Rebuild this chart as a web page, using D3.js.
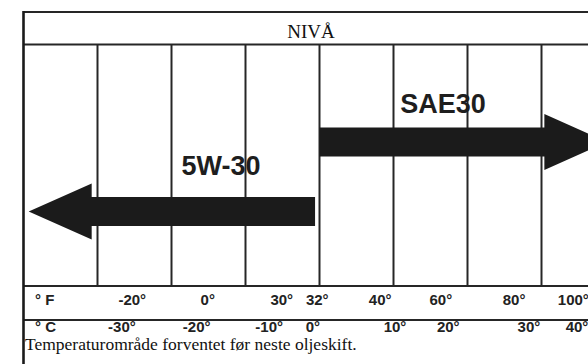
<!DOCTYPE html>
<html><head><meta charset="utf-8">
<script src="https://cdn.jsdelivr.net/npm/d3@7"></script>
<style>html,body{margin:0;padding:0;background:#fff;} svg{display:block}</style>
</head><body>
<svg id="chart" width="588" height="364"></svg>
<script>
// ---- data ----
const title = "NIVÅ";
const caption = "Temperaturområde forventet før neste oljeskift.";
const columnDomain = [0, 8];
const gridBoundaries = [1, 2, 3, 4, 5, 6, 7];
const fUnit = "° F";
const fLabels = ["-20°", "0°", "30°", "32°", "40°", "60°", "80°", "100°"];
const fPositions = [1.47, 2.49, 3.49, 3.97, 4.82, 5.64, 6.63, 7.43];
const cUnit = "° C";
const cLabels = ["-30°", "-20°", "-10°", "0°", "10°", "20°", "30°", "40°"];
const cPositions = [1.33, 2.34, 3.32, 3.91, 5.02, 5.74, 6.83, 7.48];
const oils = ["5W-30", "SAE30"];
const oilFrom = [0.07, 4.0];
const oilTo = [3.94, 7.89];
const oilDirection = ["left", "right"];
const oilLabelPos = [2.67, 5.67];

// ---- layout ----
const svg = d3.select("#chart");
const x = d3.scaleLinear().domain(columnDomain).range([23.5, 615.5]);
const yTop = 12, yHeader = 44.5, yGridBottom = 286, yFBottom = 320;
const rowY = d3.scaleOrdinal().domain(oils).range([211.5, 142]);
const labelGap = d3.scaleOrdinal().domain(oils).range([36.5, 29]);
const ink = "#262626";

// horizontal lines
svg.selectAll("line.h").data([yTop, yHeader, yGridBottom, yFBottom]).join("line")
  .attr("class", "h")
  .attr("x1", x(columnDomain[0])).attr("x2", x(columnDomain[1]))
  .attr("y1", d => d).attr("y2", d => d)
  .attr("stroke", ink).attr("stroke-width", 2);

// vertical grid lines
svg.selectAll("line.v").data(gridBoundaries).join("line")
  .attr("class", "v")
  .attr("x1", d => x(d)).attr("x2", d => x(d))
  .attr("y1", yHeader).attr("y2", yGridBottom)
  .attr("stroke", ink).attr("stroke-width", 2);

// left frame
svg.append("line")
  .attr("x1", x(0)).attr("x2", x(0))
  .attr("y1", yTop - 1).attr("y2", 364)
  .attr("stroke", "#1a1a1a").attr("stroke-width", 2.6);

// title
svg.append("text")
  .attr("x", 311).attr("y", 38)
  .attr("text-anchor", "middle")
  .attr("font-family", "'Liberation Serif','Times New Roman',serif")
  .attr("font-size", 19).attr("fill", "#111")
  .text(title);

// arrows
const headLen = 63, headHalf = 28, barHalf = 14.5;
function arrowPath(i) {
  const cy = rowY(oils[i]);
  const a = x(oilFrom[i]), b = x(oilTo[i]);
  if (oilDirection[i] === "left") {
    const h = a + headLen;
    return `M${a},${cy} L${h},${cy - headHalf} L${h},${cy - barHalf} L${b},${cy - barHalf} L${b},${cy + barHalf} L${h},${cy + barHalf} L${h},${cy + headHalf} Z`;
  } else {
    const h = b - headLen;
    return `M${b},${cy} L${h},${cy - headHalf} L${h},${cy - barHalf} L${a},${cy - barHalf} L${a},${cy + barHalf} L${h},${cy + barHalf} L${h},${cy + headHalf} Z`;
  }
}
svg.selectAll("path.arrow").data(oils).join("path")
  .attr("class", "arrow")
  .attr("d", (d, i) => arrowPath(i))
  .attr("fill", "#1b1b1b");

svg.selectAll("text.oil").data(oils).join("text")
  .attr("class", "oil")
  .attr("x", (d, i) => x(oilLabelPos[i]))
  .attr("y", d => rowY(d) - labelGap(d))
  .attr("text-anchor", "middle")
  .attr("font-family", "'Liberation Sans',Arial,sans-serif")
  .attr("font-weight", "bold")
  .attr("font-size", 27).attr("fill", "#1e1e1e")
  .text(d => d);

// temperature rows
const tickFont = "'Liberation Sans Narrow','Arial Narrow','Liberation Sans',sans-serif";
function row(labels, positions, unit, y, cls) {
  svg.append("text")
    .attr("x", 35).attr("y", y)
    .attr("font-family", tickFont).attr("font-weight", "bold")
    .attr("font-size", 15).attr("fill", "#222")
    .text(unit);
  svg.selectAll("text." + cls).data(labels).join("text")
    .attr("class", cls)
    .attr("x", (d, i) => x(positions[i]))
    .attr("y", y)
    .attr("text-anchor", "middle")
    .attr("font-family", tickFont).attr("font-weight", "bold")
    .attr("font-size", 15).attr("fill", "#222")
    .text(d => d);
}
row(fLabels, fPositions, fUnit, 305, "f");
row(cLabels, cPositions, cUnit, 332, "c");

// caption
svg.append("text")
  .attr("x", 25).attr("y", 350)
  .attr("font-family", "'Liberation Serif','Times New Roman',serif")
  .attr("font-size", 17.5).attr("fill", "#111")
  .text(caption);
</script>
</body></html>
